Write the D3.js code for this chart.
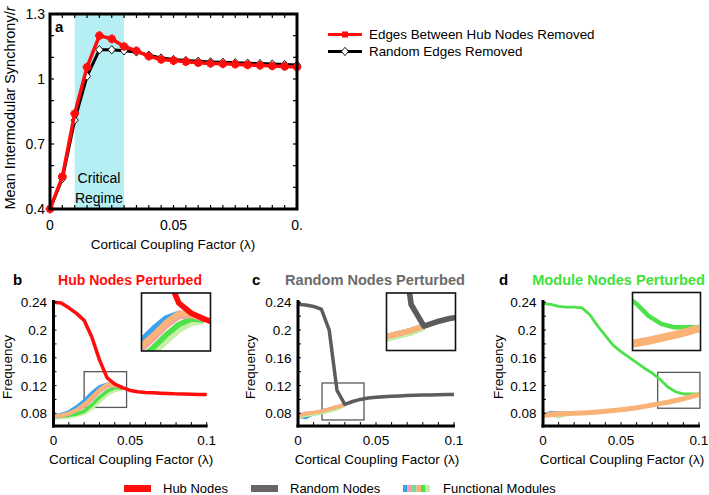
<!DOCTYPE html>
<html><head><meta charset="utf-8">
<script src="https://cdn.jsdelivr.net/npm/d3@7"></script>
<style>body{margin:0;background:#fff} svg{display:block;font-family:"Liberation Sans",Arial,Helvetica,sans-serif}</style>
</head><body><svg id="chart" width="709" height="495"></svg>
<script>
// ---------------- DATA ----------------
const lambda = [0,0.005,0.01,0.015,0.02,0.025,0.03,0.035,0.04,0.045,0.05,0.055,0.06,0.065,0.07,0.075,0.08,0.085,0.09,0.095,0.1];

// panel a
const hubEdgesRemoved    = [0.40,0.55,0.84,1.055,1.20,1.185,1.15,1.13,1.105,1.09,1.085,1.08,1.075,1.072,1.07,1.068,1.065,1.063,1.06,1.058,1.055];
const randomEdgesRemoved = [0.40,0.54,0.81,1.013,1.135,1.135,1.13,1.125,1.11,1.097,1.09,1.085,1.082,1.079,1.077,1.075,1.073,1.071,1.069,1.067,1.065];
const criticalRegime = [0.01,0.03];
const aYTicks = [0.4,0.7,1,1.3];
const aYTickLabels = ["0.4","0.7","1","1.3"];
const xTicks = [0,0.05,0.1];
const xTickLabels = ["0","0.05","0.1"];
const aXTickLabels = ["0","0.05","0."];

// panel b (hub nodes perturbed)
const hubB = [0.240,0.239,0.232,0.224,0.214,0.190,0.157,0.131,0.122,0.117,0.113,0.111,0.110,0.1095,0.109,0.1085,0.108,0.1077,0.1074,0.1072,0.107];
const modBlueB   = [0.076,0.078,0.082,0.089,0.098,0.109,0.118,0.122,0.121,0.117];
const modPinkB   = [0.075,0.076,0.079,0.084,0.090,0.100,0.111,0.119,0.120,0.117];
const modOrangeB = [0.076,0.077,0.080,0.085,0.093,0.103,0.114,0.122,0.121,0.117];
const modLGreenB = [0.073,0.074,0.075,0.077,0.080,0.087,0.097,0.107,0.113,0.115];
const modGreenB  = [0.075,0.076,0.077,0.079,0.083,0.092,0.103,0.112,0.117,0.116];
const zoomB = [0.02,0.0477,0.0885,0.140];

// panel c (random nodes perturbed)
const randC = [0.237,0.236,0.234,0.230,0.200,0.113,0.093,0.097,0.100,0.102,0.103,0.104,0.1045,0.105,0.1055,0.106,0.1062,0.1065,0.1067,0.107,0.107];
const modBlueC   = [0.076,0.074,0.080,0.083,0.086,0.089,0.093];
const modLGreenC = [0.075,0.077,0.079,0.081,0.084,0.087,0.0915];
const modGreenC  = [0.075,0.077,0.079,0.081,0.084,0.087,0.092];
const modPinkC   = [0.077,0.080,0.081,0.083,0.086,0.089,0.093];
const modOrangeC = [0.076,0.079,0.081,0.083,0.086,0.089,0.093];
const zoomC = [0.0154,0.0423,0.0704,0.1237];

// panel d (module nodes perturbed)
const modD = [0.238,0.237,0.234,0.233,0.233,0.232,0.222,0.206,0.192,0.178,0.169,0.161,0.153,0.145,0.138,0.129,0.118,0.111,0.108,0.108,0.108];
const modBlueD   = [0.078,0.081,0.080,0.080];
const modPinkD   = [0.078,0.080,0.080,0.080];
const modLGreenD = [0.077,0.078,0.075,0.079];
const modGreenD  = [0.077,0.079,0.079,0.080];
const modOrangeD = [0.077,0.078,0.079,0.0795,0.080,0.0805,0.081,0.082,0.083,0.084,0.085,0.0865,0.088,0.090,0.092,0.094,0.096,0.0985,0.101,0.104,0.107];
const zoomD = [0.0735,0.1006,0.0873,0.139];

const fYTicks = [0.08,0.12,0.16,0.2,0.24];
const fYTickLabels = ["0.08","0.12","0.16","0.2","0.24"];

const legendA = ["Edges Between Hub Nodes Removed","Random Edges Removed"];
const legendBottom = ["Hub Nodes","Random Nodes","Functional Modules"];

// ---------------- STYLE ----------------
const C = {red:"#ff0d0d", gray:"#5c5c5c", blue:"#3aa2ee", pink:"#f5a3a0", orange:"#f9b377", green:"#4de24a", lgreen:"#c6f0a6", cyan:"#b5eff3"};

const svg = d3.select("#chart");
const pts = (ys, xs) => ys.map((v,i)=>[ (xs||lambda)[i], v ]);

// ---------------- PANEL A ----------------
(function(){
  const x = d3.scaleLinear().domain([0,0.1]).range([50,297]);
  const y = d3.scaleLinear().domain([0.4,1.3]).range([209,14]);
  const g = svg.append("g");
  g.append("rect").attr("x",x(criticalRegime[0])).attr("y",y(1.3)).attr("width",x(criticalRegime[1])-x(criticalRegime[0])).attr("height",y(0.4)-y(1.3)).attr("fill",C.cyan);
  const line = d3.line().x(d=>x(d[0])).y(d=>y(d[1]));
  g.append("path").datum(pts(randomEdgesRemoved)).attr("d",line).attr("fill","none").attr("stroke","#000").attr("stroke-width",3);
  const diamond = "M0,-4.2L3.6,0L0,4.2L-3.6,0Z";
  g.selectAll(".dm").data(pts(randomEdgesRemoved)).join("path").attr("d",diamond)
    .attr("transform",d=>`translate(${x(d[0])},${y(d[1])})`).attr("fill","#fff").attr("stroke","#000").attr("stroke-width",0.9);
  g.append("path").datum(pts(hubEdgesRemoved)).attr("d",line).attr("fill","none").attr("stroke",C.red).attr("stroke-width",3.5);
  const sq = g.selectAll(".sq").data(pts(hubEdgesRemoved)).join("g").attr("transform",d=>`translate(${x(d[0])},${y(d[1])})`);
  sq.append("rect").attr("x",-3.3).attr("y",-3.3).attr("width",6.6).attr("height",6.6).attr("fill",C.red);
  sq.append("path").attr("d",d3.symbol(d3.symbolCross,42)).attr("fill",C.red);
  g.append("rect").attr("x",50).attr("y",14).attr("width",247).attr("height",195).attr("fill","none").attr("stroke","#000").attr("stroke-width",3);
  const mt = d3.range(0.005,0.1,0.005);
  g.selectAll(".tt").data(mt).join("line").attr("x1",d=>x(d)).attr("x2",d=>x(d)).attr("y1",15).attr("y2",18).attr("stroke","#000").attr("stroke-width",1.2);
  g.selectAll(".tb").data(mt).join("line").attr("x1",d=>x(d)).attr("x2",d=>x(d)).attr("y1",208).attr("y2",205).attr("stroke","#000").attr("stroke-width",1.2);
  const yt = d3.range(0.5,1.3,0.1);
  g.selectAll(".tl").data(yt).join("line").attr("x1",51).attr("x2",54).attr("y1",d=>y(d)).attr("y2",d=>y(d)).attr("stroke","#000").attr("stroke-width",1.2);
  g.selectAll(".tr").data(yt).join("line").attr("x1",296).attr("x2",293).attr("y1",d=>y(d)).attr("y2",d=>y(d)).attr("stroke","#000").attr("stroke-width",1.2);
  g.selectAll(".yl").data(aYTicks).join("text").attr("x",45).attr("y",d=>y(d)+5).attr("text-anchor","end").attr("font-size",14).text((d,i)=>aYTickLabels[i]);
  g.selectAll(".xl").data(xTicks).join("text").attr("x",d=>x(d)).attr("y",230).attr("text-anchor","middle").attr("font-size",14).text((d,i)=>aXTickLabels[i]);
  g.append("text").attr("x",173).attr("y",249).attr("text-anchor","middle").attr("font-size",13.5).text("Cortical Coupling Factor (λ)");
  const yt2 = g.append("text").attr("transform","translate(15,108) rotate(-90)").attr("text-anchor","middle").attr("font-size",14.5);
  yt2.append("tspan").text("Mean Intermodular Synchrony/");
  yt2.append("tspan").attr("font-style","italic").text("r");
  g.append("text").attr("x",55).attr("y",32).attr("font-size",15).attr("font-weight","bold").text("a");
  g.append("text").attr("x",99).attr("y",183).attr("text-anchor","middle").attr("font-size",14).text("Critical");
  g.append("text").attr("x",99).attr("y",203).attr("text-anchor","middle").attr("font-size",14).text("Regime");
  const lg = svg.append("g");
  lg.append("line").attr("x1",328).attr("x2",362).attr("y1",34.5).attr("y2",34.5).attr("stroke",C.red).attr("stroke-width",3);
  lg.append("rect").attr("x",342).attr("y",31.5).attr("width",6).attr("height",6).attr("fill",C.red);
  lg.append("text").attr("x",369).attr("y",39).attr("font-size",13.4).text(legendA[0]);
  lg.append("line").attr("x1",328).attr("x2",362).attr("y1",51.5).attr("y2",51.5).attr("stroke","#000").attr("stroke-width",3);
  lg.append("path").attr("d",diamond).attr("transform","translate(345,51.5)").attr("fill","#fff").attr("stroke","#000").attr("stroke-width",0.9);
  lg.append("text").attr("x",369).attr("y",56).attr("font-size",13.4).text(legendA[1]);
})();

// ---------------- SMALL PANELS ----------------
function smallPanel(o){
  const x = d3.scaleLinear().domain([0,0.1]).range([o.x0,o.x1]);
  const y = d3.scaleLinear().domain([0.0617,0.2433]).range([426,300]);
  const g = svg.append("g");
  g.append("rect").attr("x",x(o.zoom[0])).attr("y",y(o.zoom[3])).attr("width",x(o.zoom[1])-x(o.zoom[0])).attr("height",y(o.zoom[2])-y(o.zoom[3]))
    .attr("fill","none").attr("stroke","#585858").attr("stroke-width",1.3);
  const line = d3.line().x(d=>x(d[0])).y(d=>y(d[1]));
  o.series.forEach(s=>{
    g.append("path").datum(pts(s.v)).attr("d",line).attr("fill","none").attr("stroke",s.c).attr("stroke-width",s.w).attr("stroke-linejoin","round");
  });
  g.append("line").attr("x1",o.x0).attr("x2",o.x0).attr("y1",300).attr("y2",427.5).attr("stroke","#000").attr("stroke-width",3);
  g.append("line").attr("x1",o.x0-1.5).attr("x2",o.x1+1).attr("y1",426).attr("y2",426).attr("stroke","#000").attr("stroke-width",3);
  g.selectAll(".xt").data(d3.range(0.01,0.1001,0.01)).join("line").attr("x1",d=>x(d)).attr("x2",d=>x(d)).attr("y1",425).attr("y2",422).attr("stroke","#000").attr("stroke-width",1);
  g.selectAll(".yt").data(d3.range(0.08,0.241,0.02)).join("line").attr("x1",o.x0).attr("x2",o.x0+3).attr("y1",d=>y(d)).attr("y2",d=>y(d)).attr("stroke","#000").attr("stroke-width",1);
  g.selectAll(".yl").data(fYTicks).join("text").attr("x",o.x0-6.5).attr("y",d=>y(d)+5).attr("text-anchor","end").attr("font-size",13.5).text((d,i)=>fYTickLabels[i]);
  g.selectAll(".xl").data(xTicks).join("text").attr("x",d=>x(d)).attr("y",445).attr("text-anchor","middle").attr("font-size",13.5).text((d,i)=>xTickLabels[i]);
  g.append("text").attr("x",(o.x0+o.x1)/2+1).attr("y",464).attr("text-anchor","middle").attr("font-size",13.5).text("Cortical Coupling Factor (λ)");
  g.append("text").attr("transform",`translate(${o.fx},367) rotate(-90)`).attr("text-anchor","middle").attr("font-size",13.5).text("Frequency");
  g.append("text").attr("x",o.lx).attr("y",285).attr("font-size",15).attr("font-weight","bold").text(o.letter);
  g.append("text").attr("x",o.tx).attr("y",285).attr("text-anchor","middle").attr("font-size",o.ts).attr("font-weight","bold").attr("fill",o.tc).text(o.title);
  const b = o.inset;
  const id = "clip"+o.letter;
  svg.append("clipPath").attr("id",id).append("rect").attr("x",b[0]).attr("y",b[1]).attr("width",b[2]-b[0]).attr("height",b[3]-b[1]);
  const xi = d3.scaleLinear().domain([o.zoom[0],o.zoom[1]]).range([b[0],b[2]]);
  const yi = d3.scaleLinear().domain([o.zoom[2],o.zoom[3]]).range([b[3],b[1]]);
  const li = d3.line().x(d=>xi(d[0])).y(d=>yi(d[1]));
  const gi = g.append("g").attr("clip-path",`url(#${id})`);
  gi.append("rect").attr("x",b[0]).attr("y",b[1]).attr("width",b[2]-b[0]).attr("height",b[3]-b[1]).attr("fill","#fff");
  o.series.forEach(s=>{
    gi.append("path").datum(pts(s.v)).attr("d",li).attr("fill","none").attr("stroke",s.c).attr("stroke-width",s.w*1.6).attr("stroke-linejoin","round");
  });
  g.append("rect").attr("x",b[0]).attr("y",b[1]).attr("width",b[2]-b[0]).attr("height",b[3]-b[1]).attr("fill","none").attr("stroke","#111").attr("stroke-width",1.6);
}

smallPanel({letter:"b", lx:13, title:"Hub Nodes Perturbed", tx:130, ts:14, tc:C.red, x0:53.5, x1:206.7, fx:12, zoom:zoomB, inset:[141.5,293,210.5,351],
  series:[{v:modLGreenB,c:C.lgreen,w:3.5},{v:modGreenB,c:C.green,w:3.5},{v:modBlueB,c:C.blue,w:3.5},{v:modPinkB,c:C.pink,w:3.5},{v:modOrangeB,c:C.orange,w:3.5},{v:hubB,c:C.red,w:3.5}]});
smallPanel({letter:"c", lx:252, title:"Random Nodes Perturbed", tx:375, ts:14.6, tc:"#6b6b6b", x0:298, x1:454, fx:255, zoom:zoomC, inset:[386.5,293,455.5,350.5],
  series:[{v:modBlueC,c:C.blue,w:3.5},{v:modGreenC,c:C.green,w:3.5},{v:modLGreenC,c:C.lgreen,w:3.5},{v:modPinkC,c:C.pink,w:3.5},{v:modOrangeC,c:C.orange,w:3.5},{v:randC,c:C.gray,w:3.5}]});
smallPanel({letter:"d", lx:499, title:"Module Nodes Perturbed", tx:618.5, ts:14.6, tc:"#3fe23a", x0:543, x1:699, fx:503, zoom:zoomD, inset:[632.5,292.5,700.5,350.5],
  series:[{v:modBlueD,c:C.blue,w:3.5},{v:modPinkD,c:C.pink,w:3.5},{v:modLGreenD,c:C.lgreen,w:3.5},{v:modGreenD,c:C.green,w:3.5},{v:modD,c:C.green,w:2.8},{v:modOrangeD,c:C.orange,w:5}]});

// ---------------- BOTTOM LEGEND ----------------
(function(){
  const g = svg.append("g");
  g.append("rect").attr("x",124).attr("y",485).attr("width",27).attr("height",7).attr("fill",C.red);
  g.append("text").attr("x",163).attr("y",492.5).attr("font-size",13).text(legendBottom[0]);
  g.append("rect").attr("x",251).attr("y",485).attr("width",27).attr("height",7).attr("fill","#666");
  g.append("text").attr("x",290).attr("y",492.5).attr("font-size",13).text(legendBottom[1]);
  const mc = [C.blue,C.pink,"#7fd6a0",C.orange,C.green,C.lgreen];
  g.selectAll(".m").data(mc).join("rect").attr("x",(d,i)=>403+i*4.5).attr("y",485).attr("width",4.6).attr("height",7).attr("fill",d=>d);
  g.append("text").attr("x",443).attr("y",492.5).attr("font-size",13).text(legendBottom[2]);
})();
</script></body></html>
